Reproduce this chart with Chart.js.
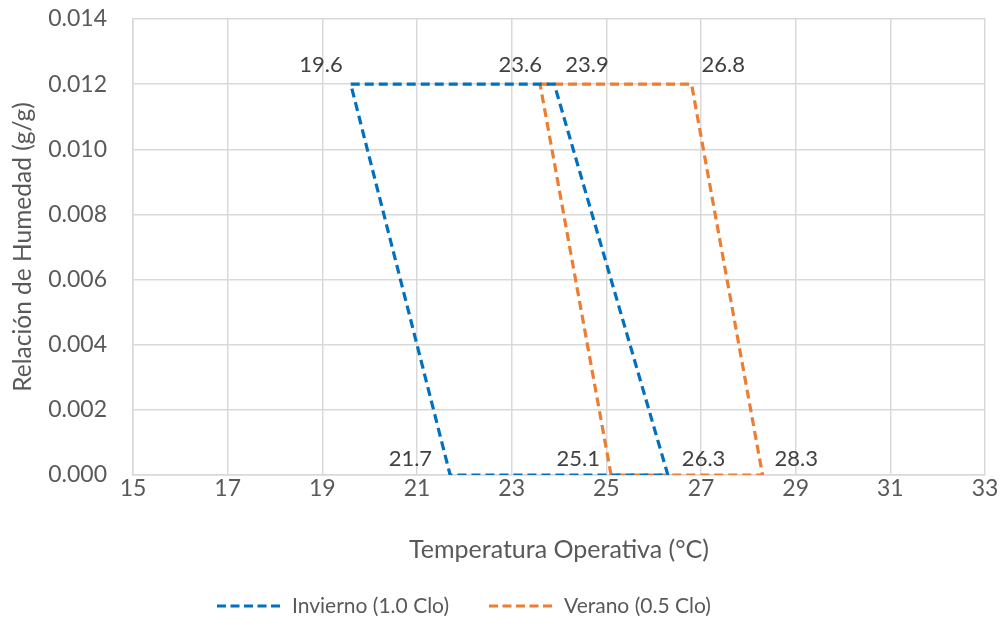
<!DOCTYPE html>
<html>
<head>
<meta charset="utf-8">
<script src="https://cdn.jsdelivr.net/npm/chart.js@4.4.0/dist/chart.umd.min.js"></script>
<style>
  html, body { margin: 0; padding: 0; background: #fff; }
  #wrap { width: 1005px; height: 629px; }
</style>
</head>
<body>
<div id="wrap"><canvas id="myChart" width="1005" height="629"></canvas></div>
<script>
// temperatura operativa (°C) y relacion de humedad (g/g)
const inviernoX = [19.6, 23.9, 26.3, 21.7, 19.6]
const inviernoY = [0.012, 0.012, 0.000, 0.000, 0.012]
const veranoX = [23.6, 26.8, 28.3, 25.1, 23.6]
const veranoY = [0.012, 0.012, 0.000, 0.000, 0.012]

const xTicks = [15, 17, 19, 21, 23, 25, 27, 29, 31, 33]
const yTicks = [0, 0.002, 0.004, 0.006, 0.008, 0.010, 0.012, 0.014]

// donde va cada etiqueta respecto al punto (solo estilo)
const inviernoEtq = [['l', -8, -19], ['r', 11, -19], ['r', 14, -16], ['l', -18, -16], null]
const veranoEtq = [['l', 2, -19], ['r', 10, -19], ['r', 12, -16], ['l', -11, -16], null]

const gris = '#595959'
const fuente = 'Lato, "Liberation Sans", sans-serif'
const azul = '#0070C0'
const naranja = '#ED7D31'

const toPoints = (xs, ys) => xs.map((x, i) => ({ x: x, y: ys[i] }))

const etiquetas = {
    id: 'etiquetas',
    afterDatasetsDraw(chart) {
        const ctx = chart.ctx
        const xs = chart.scales.x
        const ys = chart.scales.y
        const grupos = [[inviernoX, inviernoY, inviernoEtq], [veranoX, veranoY, veranoEtq]]
        ctx.save()
        ctx.font = '22px ' + fuente
        ctx.fillStyle = '#404040'
        ctx.textBaseline = 'middle'
        grupos.forEach(([gx, gy, etq]) => {
            gx.forEach((v, i) => {
                if (!etq[i]) return
                const px = xs.getPixelForValue(v)
                const py = ys.getPixelForValue(gy[i])
                ctx.textAlign = etq[i][0] == 'l' ? 'right' : 'left'
                ctx.fillText(v.toFixed(1), px + etq[i][1], py + etq[i][2])
            })
        })
        ctx.restore()
    }
}

// leyenda abajo con lineas discontinuas
const leyenda = {
    id: 'leyenda',
    afterDraw(chart) {
        const ctx = chart.ctx
        const items = chart.data.datasets.map(d => [d.label, d.borderColor])
        const y = 606
        const linea = 66, hueco = 9, sep = 40
        ctx.save()
        ctx.font = '21px ' + fuente
        let x = 217
        items.forEach((it) => {
            ctx.strokeStyle = it[1]
            ctx.lineWidth = 3
            ctx.setLineDash([9, 4.5])
            ctx.beginPath()
            ctx.moveTo(x, y)
            ctx.lineTo(x + linea, y)
            ctx.stroke()
            ctx.setLineDash([])
            ctx.fillStyle = gris
            ctx.textAlign = 'left'
            ctx.textBaseline = 'middle'
            ctx.fillText(it[0], x + linea + hueco, y)
            x += linea + hueco + ctx.measureText(it[0]).width + sep
        })
        ctx.restore()
    }
}

const data = {
    datasets: [
        {
            label: 'Invierno (1.0 Clo)',
            data: toPoints(inviernoX, inviernoY),
            borderColor: azul,
            backgroundColor: azul,
            borderWidth: 3.2,
            borderDash: [9, 5],
            showLine: true,
            pointRadius: 0
        },
        {
            label: 'Verano (0.5 Clo)',
            data: toPoints(veranoX, veranoY),
            borderColor: naranja,
            backgroundColor: naranja,
            borderWidth: 3.2,
            borderDash: [9, 5],
            showLine: true,
            pointRadius: 0
        }
    ]
}

const config = {
    type: 'scatter',
    data: data,
    options: {
        responsive: false,
        animation: false,
        layout: { padding: { top: 19, right: 20, left: 0, bottom: 60 } },
        scales: {
            x: {
                min: 15, max: 33,
                afterBuildTicks: (s) => { s.ticks = xTicks.map(v => ({ value: v })) },
                afterFit: (s) => { s.height = 94 },
                grid: { color: '#d9d9d9', lineWidth: 1.5, drawTicks: false },
                border: { color: '#d9d9d9', width: 1.5 },
                ticks: { color: gris, font: { size: 23, family: fuente }, padding: 0, maxRotation: 0 },
                title: {
                    display: true, text: 'Temperatura Operativa (°C)',
                    color: gris, font: { size: 25, family: fuente }, padding: { bottom: 4 }
                }
            },
            y: {
                min: 0, max: 0.014,
                afterBuildTicks: (s) => { s.ticks = yTicks.map(v => ({ value: v })) },
                afterFit: (s) => { s.width = 133 },
                grid: { color: '#d9d9d9', lineWidth: 1.5, drawTicks: true, tickLength: 26, tickColor: 'rgba(0,0,0,0)' },
                border: { color: '#d9d9d9', width: 1.5 },
                ticks: {
                    color: gris, font: { size: 23, family: fuente }, padding: 0,
                    callback: (v) => v.toFixed(3)
                },
                title: {
                    display: true, text: 'Relación de Humedad (g/g)',
                    color: gris, font: { size: 24.5, family: fuente }, padding: { top: 8 }
                }
            }
        },
        plugins: {
            legend: { display: false },
            tooltip: { enabled: false }
        }
    },
    plugins: [etiquetas, leyenda]
}

var myChart = new Chart(document.getElementById('myChart'), config)
</script>
</body>
</html>
